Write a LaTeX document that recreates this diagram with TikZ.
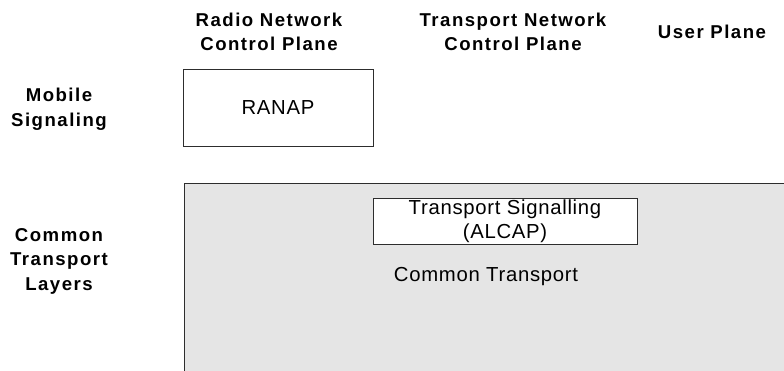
\documentclass[tikz,border=0pt]{standalone}
\usepackage{fontspec}
\setmainfont{Liberation Sans}
\newfontfamily\hdfont[LetterSpace=8]{Liberation Sans}
\newfontfamily\txfont[LetterSpace=3.5]{Liberation Sans}
\definecolor{ctgray}{RGB}{229,229,229}
\definecolor{edge}{RGB}{45,45,45}
\begin{document}
\begin{tikzpicture}[x=1pt,y=-1pt,
  head/.style={font=\hdfont\bfseries\fontsize{18.6}{24.5}\selectfont, align=center, inner sep=0, text=black},
  txt/.style={font=\txfont\fontsize{20.3}{24}\selectfont, align=center, inner sep=0, text=black},
  boxline/.style={draw=edge, line width=0.9pt},
  box/.style={txt, boxline, fill=white}
]
\useasboundingbox (0,0) rectangle (784,371);
% common transport area
\node[fill=ctgray, minimum width=600, minimum height=188, anchor=north west, inner sep=0] (ct) at (184,183) {};
\draw[boxline] (ct.south west) -- (ct.north west) -- (ct.north east);
\node[txt] (ctlabel) at (486,277) {Common Transport};
% boxes
\node[box, minimum width=190, minimum height=77] (ranap) at (278,107.5) {RANAP};
\node[box, minimum width=264, minimum height=46] (alcap) at (505,221) {Transport Signalling\\(ALCAP)};
% headers
\node[head] (rnc) at (269,32) {Radio Network\\Control Plane};
\node[head] (tnc) at (513,32) {Transport Network\\Control Plane};
\node[head] (up) at (712,32) {User Plane};
\node[head] (ms) at (59,109) {Mobile\\Signaling};
\node[head] (ctl) at (59,261) {Common\\Transport\\Layers};
\end{tikzpicture}
\end{document}
